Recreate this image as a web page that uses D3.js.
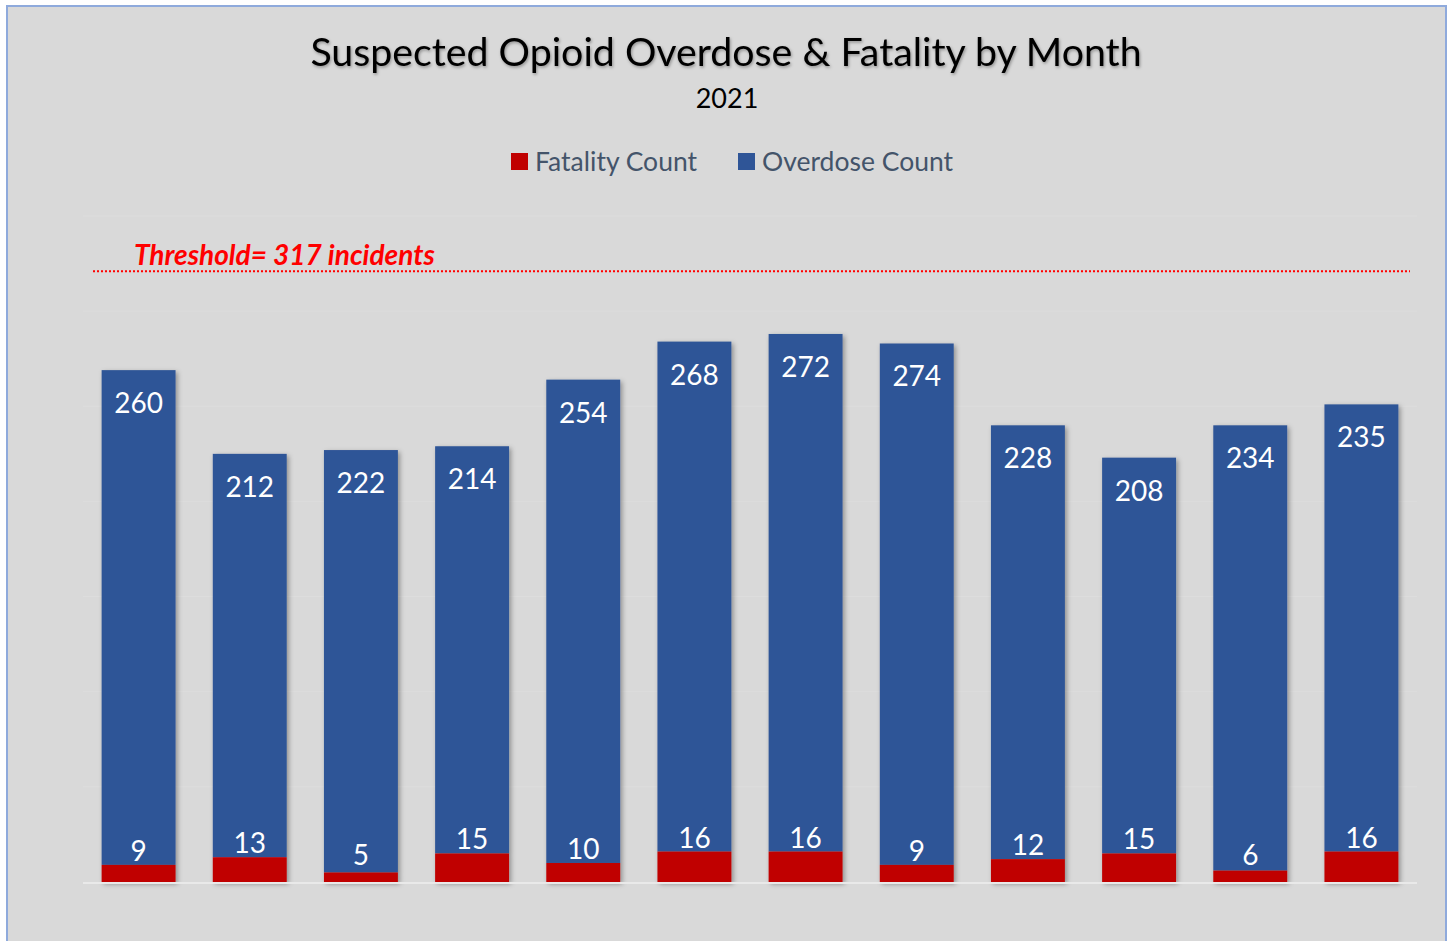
<!DOCTYPE html>
<html>
<head>
<meta charset="utf-8">
<script src="https://cdn.jsdelivr.net/npm/d3@7"></script>
<style>
  body { margin: 0; background: #fff; }
  svg { display: block; font-family: Lato, "Open Sans", sans-serif; }
</style>
</head>
<body>
<svg width="1453" height="941"></svg>
<script>
var months = ["Jan", "Feb", "Mar", "Apr", "May", "Jun", "Jul", "Aug", "Sep", "Oct", "Nov", "Dec"];
var fatality = [9, 13, 5, 15, 10, 16, 16, 9, 12, 15, 6, 16];
var overdose = [260, 212, 222, 214, 254, 268, 272, 274, 228, 208, 234, 235];
var yTicks = [0, 50, 100, 150, 200, 250, 300, 350];
var threshold = 317;
var thresholdDrawn = 321; // where the dotted line sits in the picture

var svg = d3.select("svg");
var plot = { left: 83, right: 1417, top: 216, bottom: 882 };

var defs = svg.append("defs");
defs.append("filter").attr("id", "barShadow")
    .attr("x", "-20%").attr("y", "-5%").attr("width", "140%").attr("height", "110%")
    .append("feDropShadow")
    .attr("dx", 2).attr("dy", 2).attr("stdDeviation", 2.5)
    .attr("flood-color", "#000").attr("flood-opacity", 0.35);
defs.append("filter").attr("id", "textShadow")
    .append("feDropShadow")
    .attr("dx", 1).attr("dy", 1.5).attr("stdDeviation", 1.5)
    .attr("flood-color", "#000").attr("flood-opacity", 0.35);

// chart area
svg.append("rect")
    .attr("x", 7).attr("y", 6)
    .attr("width", 1439).attr("height", 960)
    .attr("fill", "#d9d9d9")
    .attr("stroke", "#8faadc")
    .attr("stroke-width", 2);

// scales
var x = d3.scaleBand()
    .domain(months)
    .range([plot.left, plot.right])
    .paddingInner(0.335)
    .paddingOuter(0.1675);
var y = d3.scaleLinear()
    .domain([0, 350])
    .range([plot.bottom, plot.top]);

// gridlines
svg.append("g")
    .selectAll("line")
    .data(yTicks.slice(1))
    .join("line")
    .attr("x1", plot.left).attr("x2", plot.right)
    .attr("y1", function (d) { return y(d); })
    .attr("y2", function (d) { return y(d); })
    .attr("stroke", "#dddddd")
    .attr("stroke-width", 1);

// threshold
svg.append("line")
    .attr("x1", 93).attr("x2", 1410)
    .attr("y1", y(thresholdDrawn)).attr("y2", y(thresholdDrawn))
    .attr("stroke", "#ff0000")
    .attr("stroke-width", 2)
    .attr("stroke-dasharray", "2,2");
svg.append("text")
    .attr("x", 134).attr("y", y(thresholdDrawn) - 6)
    .attr("fill", "#ff0000")
    .attr("font-size", 28)
    .attr("font-weight", "bold")
    .attr("font-style", "italic")
    .text("Threshold= " + threshold + " incidents");

// bars
var data = months.map(function (m, i) {
    return { month: m, fatality: fatality[i], overdose: overdose[i] };
});
var bars = svg.append("g").attr("filter", "url(#barShadow)");
var barG = bars.selectAll("g").data(data).join("g");
barG.append("rect")
    .attr("x", function (d) { return x(d.month); })
    .attr("width", x.bandwidth())
    .attr("y", function (d) { return y(d.fatality + d.overdose); })
    .attr("height", function (d) { return y(d.fatality) - y(d.fatality + d.overdose); })
    .attr("fill", "#2f5597");
barG.append("rect")
    .attr("x", function (d) { return x(d.month); })
    .attr("width", x.bandwidth())
    .attr("y", function (d) { return y(d.fatality); })
    .attr("height", function (d) { return y(0) - y(d.fatality); })
    .attr("fill", "#c00000");

// baseline
svg.append("line")
    .attr("x1", plot.left).attr("x2", plot.right)
    .attr("y1", y(0) + 1).attr("y2", y(0) + 1)
    .attr("stroke", "#e9e9e9")
    .attr("stroke-width", 2);

// labels
var labels = svg.append("g")
    .attr("fill", "#fff")
    .attr("font-size", 28)
    .attr("text-anchor", "middle")
    .attr("dominant-baseline", "central");
labels.selectAll("text.od")
    .data(data)
    .join("text")
    .attr("class", "od")
    .attr("x", function (d) { return x(d.month) + x.bandwidth() / 2; })
    .attr("y", function (d) { return y(d.fatality + d.overdose) + 32; })
    .text(function (d) { return d.overdose; });
labels.selectAll("text.fa")
    .data(data)
    .join("text")
    .attr("class", "fa")
    .attr("x", function (d) { return x(d.month) + x.bandwidth() / 2; })
    .attr("y", function (d) { return Math.min(y(d.fatality), y(7)) - 15; })
    .text(function (d) { return d.fatality; });

// title
svg.append("text")
    .attr("x", 726).attr("y", 66)
    .attr("text-anchor", "middle")
    .attr("font-size", 39.3)
    .attr("fill", "#000")
    .attr("filter", "url(#textShadow)")
    .text("Suspected Opioid Overdose & Fatality by Month");
svg.append("text")
    .attr("x", 727).attr("y", 108)
    .attr("text-anchor", "middle")
    .attr("font-size", 27)
    .attr("fill", "#000")
    .text("2021");

// legend
var legendItems = [
    { name: "Fatality Count", color: "#c00000", x: 511 },
    { name: "Overdose Count", color: "#2f5597", x: 738 }
];
var legend = svg.append("g").selectAll("g").data(legendItems).join("g")
    .attr("transform", function (d) { return "translate(" + d.x + ",153)"; });
legend.append("rect")
    .attr("width", 17).attr("height", 17)
    .attr("fill", function (d) { return d.color; });
legend.append("text")
    .attr("x", 24).attr("y", 17.5)
    .attr("font-size", 26.5)
    .attr("fill", "#44546a")
    .text(function (d) { return d.name; });
</script>
</body>
</html>
